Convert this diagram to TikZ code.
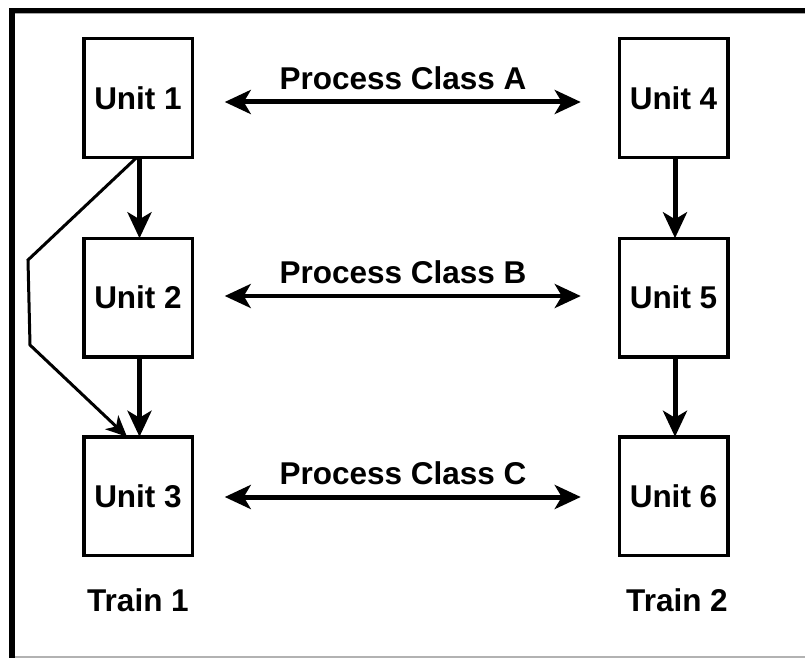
\documentclass[tikz,border=0pt]{standalone}
\usepackage{fontspec}
\setmainfont{Liberation Sans}
\usetikzlibrary{arrows.meta}
\tikzset{
  unitbox/.style={draw, line width=3.5pt, minimum width=108.5pt, minimum height=118.5pt, inner sep=0pt, outer sep=0pt, font=\fontsize{31.5}{37}\selectfont\bfseries},
  lbl/.style={inner sep=0pt, font=\fontsize{31.5}{37}\selectfont\bfseries},
  flow/.style={line width=5pt, -{Stealth[length=26pt,width=24pt,inset=7pt]}},
  bypass/.style={line width=3pt, line join=miter, -{Stealth[length=21pt,width=19pt,inset=6pt]}},
  dbl/.style={line width=#1, {Stealth[length=26pt,width=24pt,inset=7pt]}-{Stealth[length=26pt,width=24pt,inset=7pt]}},
}
\begin{document}
\begin{tikzpicture}[x=1pt,y=-1pt]
\useasboundingbox (0,0) rectangle (805,658);
% frame
\fill[black] (9,8) rectangle (805,13);
\fill[black!35] (15,13) rectangle (805,14.5);
\fill[black] (9,8) rectangle (15,658);
\fill[black!30] (15,656) rectangle (805,658);
% units
\node[unitbox] (u1) at (138,98) {Unit 1};
\node[unitbox] (u2) at (138,297.5) {Unit 2};
\node[unitbox] (u3) at (138,496) {Unit 3};
\node[unitbox] (u4) at (673.5,98) {Unit 4};
\node[unitbox] (u5) at (673.5,297.5) {Unit 5};
\node[unitbox] (u6) at (673.5,496) {Unit 6};
% labels
\node[lbl] (la) at (403,78) {Process Class A};
\node[lbl] (lb) at (403,272) {Process Class B};
\node[lbl] (lc) at (403,473) {Process Class C};
\node[lbl] (t1) at (138,600) {Train 1};
\node[lbl] (t2) at (677,600) {Train 2};
% vertical flows
\draw[flow] ([xshift=1.5pt]u1.south) -- ([xshift=1.5pt]u2.north);
\draw[flow] ([xshift=1.5pt]u2.south) -- ([xshift=1.5pt]u3.north);
\draw[flow] ([xshift=1.5pt]u4.south) -- ([xshift=1.5pt]u5.north);
\draw[flow] ([xshift=1.5pt]u5.south) -- ([xshift=1.5pt]u6.north);
% bypass
\coordinate (c1) at (28,260);
\coordinate (c2) at (30,345);
\draw[bypass] ([xshift=-1pt]u1.south) -- (c1) -- (c2) -- ([xshift=-11pt]u3.north);
% process class arrows
\draw[dbl=5pt] ([shift={(32.5pt,-4pt)}]u1.east) -- ([shift={(-38.5pt,-4pt)}]u4.west);
\draw[dbl=4pt] ([shift={(32.5pt,1.5pt)}]u2.east) -- ([shift={(-38.5pt,1.5pt)}]u5.west);
\draw[dbl=5pt] ([shift={(32.5pt,-1pt)}]u3.east) -- ([shift={(-38.5pt,-1pt)}]u6.west);
\end{tikzpicture}
\end{document}
